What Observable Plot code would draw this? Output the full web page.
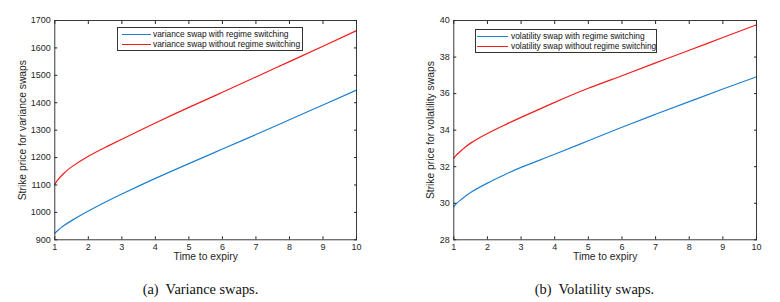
<!DOCTYPE html>
<html>
<head>
<meta charset="utf-8">
<script src="https://cdn.jsdelivr.net/npm/d3@7"></script>
<script src="https://cdn.jsdelivr.net/npm/@observablehq/plot@0.6"></script>
<style>
  html, body { margin: 0; padding: 0; background: #fff; }
  #root { position: relative; width: 780px; height: 302px; overflow: hidden; background: #fff; }
  .panel { position: absolute; top: 0; width: 390px; height: 302px; }
  .panel svg { position: absolute; left: 0; top: 0; }
  .legend { position: absolute; border: 1px solid #333; background: #fff; box-sizing: border-box;
            font-family: "Liberation Sans", Arial, sans-serif; font-size: 8.4px; color: #111; }
  .legend .sw { position: absolute; height: 1px; }
  .legend .tx { position: absolute; white-space: nowrap; }
  .caption { position: absolute; top: 280px; width: 390px; text-align: center;
             font-family: "Liberation Serif", "Times New Roman", serif; font-size: 14.4px; color: #111; line-height: 18px; }
</style>
</head>
<body>
<div id="root"></div>
<script>
// ---- data ----
const t = [1, 1.1, 1.25, 1.5, 2, 2.5, 3, 4, 5, 6, 7, 8, 9, 10];
const varianceWith    = [924, 935, 950, 970, 1005, 1037, 1067, 1124, 1178, 1231, 1284, 1338, 1392, 1446];
const varianceWithout = [1102, 1120, 1140, 1166, 1205, 1237, 1267, 1326, 1383, 1438, 1494, 1550, 1606, 1663];
const volWith    = [29.82, 30.02, 30.25, 30.59, 31.10, 31.55, 31.96, 32.68, 33.42, 34.16, 34.87, 35.56, 36.25, 36.92];
const volWithout = [32.47, 32.68, 32.93, 33.29, 33.82, 34.27, 34.70, 35.52, 36.29, 36.98, 37.68, 38.37, 39.07, 39.76];
const xTicks = [1, 2, 3, 4, 5, 6, 7, 8, 9, 10];
const varTicks = [900, 1000, 1100, 1200, 1300, 1400, 1500, 1600, 1700];
const volTicks = [28, 30, 32, 34, 36, 38, 40];

const BLUE = "#1f80cf";
const RED = "#f41c1c";
const AX = "#262626";

function panel({left, ml, mr, ydomain, yticks, s1, s2, ylabel, ylabDx, legend, caption}) {
  const d1 = t.map((x, i) => ({x, y: s1[i]}));
  const d2 = t.map((x, i) => ({x, y: s2[i]}));
  const blank = () => "";
  const chart = Plot.plot({
    width: 390, height: 270,
    marginTop: 20, marginBottom: 30.7, marginLeft: ml, marginRight: mr,
    style: {fontFamily: "'Liberation Sans', Arial, sans-serif", fontSize: "9px", color: AX, background: "transparent"},
    x: {domain: [1, 10]},
    y: {domain: ydomain},
    marks: [
      Plot.line(d1, {x: "x", y: "y", stroke: BLUE, strokeWidth: 1.2, curve: "natural"}),
      Plot.line(d2, {x: "x", y: "y", stroke: RED, strokeWidth: 1.2, curve: "natural"}),
      Plot.frame({stroke: AX, strokeWidth: 0.9}),
      Plot.axisX({ticks: xTicks, tickSize: 0, tickPadding: 4, tickFormat: d => String(d), label: null, fill: AX}),
      Plot.axisX({ticks: xTicks, anchor: "bottom", tickSize: -3, tickFormat: blank, label: null, stroke: AX}),
      Plot.axisX({ticks: xTicks, anchor: "top", tickSize: -3, tickFormat: blank, label: null, stroke: AX}),
      Plot.axisY({ticks: yticks, tickSize: 0, tickPadding: 4, tickFormat: d => String(d), label: null, fill: AX}),
      Plot.axisY({ticks: yticks, anchor: "left", tickSize: -3, tickFormat: blank, label: null, stroke: AX}),
      Plot.axisY({ticks: yticks, anchor: "right", tickSize: -3, tickFormat: blank, label: null, stroke: AX}),
      Plot.text(["Time to expiry"], {frameAnchor: "bottom", dy: 20.5, fontSize: 10.3, fill: AX}),
      Plot.text([ylabel], {frameAnchor: "left", textAnchor: "middle", rotate: -90, dx: ylabDx, fontSize: 10.3, fill: AX})
    ]
  });
  const div = document.createElement("div");
  div.className = "panel";
  div.style.left = left + "px";
  div.appendChild(chart);

  const lg = document.createElement("div");
  lg.className = "legend";
  lg.style.left = legend.x + "px";
  lg.style.top = legend.y + "px";
  lg.style.width = legend.w + "px";
  lg.style.height = legend.h + "px";
  legend.items.forEach((it, i) => {
    const cy = Math.round(legend.rows[i] - legend.y - 1);
    const sw = document.createElement("div");
    sw.className = "sw";
    sw.style.background = it.color;
    sw.style.left = legend.swx - legend.x - 1 + "px";
    sw.style.width = legend.sww + "px";
    sw.style.top = cy + "px";
    lg.appendChild(sw);
    const tx = document.createElement("div");
    tx.className = "tx";
    tx.textContent = it.label;
    tx.style.left = legend.tx - legend.x - 1 + "px";
    tx.style.top = cy - 5 + "px";
    tx.style.lineHeight = "11px";
    lg.appendChild(tx);
  });
  div.appendChild(lg);

  const cap = document.createElement("div");
  cap.className = "caption";
  cap.style.left = legend.capShift + "px";
  cap.innerHTML = caption;
  div.appendChild(cap);
  return div;
}

const root = document.getElementById("root");
root.appendChild(panel({
  left: 0, ml: 54.3, mr: 34, ydomain: [900, 1700], yticks: varTicks,
  s1: varianceWith, s2: varianceWithout,
  ylabel: "Strike price for variance swaps", ylabDx: -32,
  legend: {x: 117, y: 27, w: 186, h: 24, rows: [34, 44], swx: 122, sww: 29, tx: 153, capShift: 5.5,
    items: [{label: "variance swap with regime switching", color: BLUE},
            {label: "variance swap without regime switching", color: RED}]},
  caption: "(a)&nbsp; Variance swaps."
}));
root.appendChild(panel({
  left: 390, ml: 63.3, mr: 24, ydomain: [28, 40], yticks: volTicks,
  s1: volWith, s2: volWithout,
  ylabel: "Strike price for volatility swaps", ylabDx: -22.6,
  legend: {x: 85, y: 29, w: 182, h: 24, rows: [36, 46], swx: 87, sww: 31, tx: 121, capShift: 9.5,
    items: [{label: "volatility swap with regime switching", color: BLUE},
            {label: "volatility swap without regime switching", color: RED}]},
  caption: "(b)&nbsp; Volatility swaps."
}));
</script>
</body>
</html>
